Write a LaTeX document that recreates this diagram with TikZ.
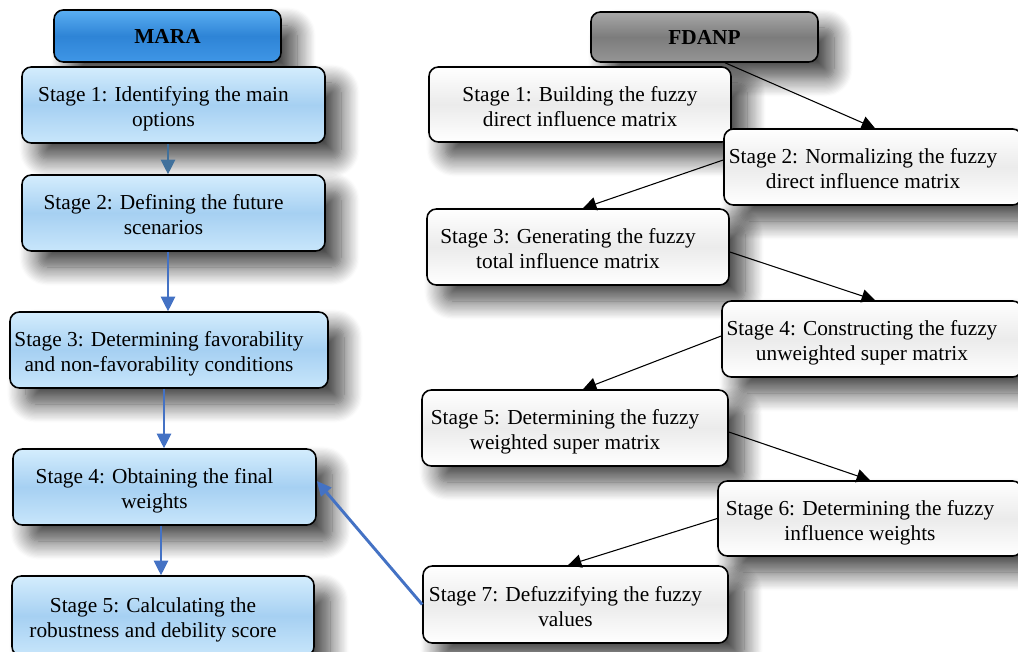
\documentclass[tikz,border=0pt]{standalone}
\usepackage{fontspec}
\setmainfont{Liberation Serif}
\usetikzlibrary{arrows.meta,calc,shadows.blur}
\definecolor{maraTop}{HTML}{5AAEF2}
\definecolor{maraMid}{HTML}{2E84D6}
\definecolor{maraBot}{HTML}{3F96E6}
\definecolor{lbTop}{HTML}{D4EDFD}
\definecolor{lbMid}{HTML}{A6D0F2}
\definecolor{lbBot}{HTML}{C8E6FB}
\definecolor{fdTop}{HTML}{A8A8A8}
\definecolor{fdMid}{HTML}{7C7C7C}
\definecolor{fdBot}{HTML}{959595}
\definecolor{rbMid}{HTML}{EBEBEB}
\definecolor{arrBlue}{HTML}{4472C4}
\definecolor{arrSteel}{HTML}{41719C}
\newcommand\boxtextc[1]{\raisebox{-7.5pt}[0pt][0pt]{\begin{tabular}{@{}c@{}}#1\end{tabular}}}
\newcommand\boxtext[1]{\boxtextc{#1}\kern15pt}
\begin{document}
\begin{tikzpicture}[x=0.75pt,y=-0.75pt,
  base/.style={draw=black, line width=1.2pt, rounded corners=7pt, inner sep=0pt,
    font=\fontsize{16}{18.5}\selectfont,
    blur shadow={shadow xshift=12pt, shadow yshift=-12pt, shadow blur radius=14pt, shadow blur steps=16, shadow opacity=75}},
  sz/.style 2 args={minimum width=#1*0.75pt, minimum height=#2*0.75pt},
  marahead/.style={base, top color=maraTop, bottom color=maraBot, middle color=maraMid},
  fdhead/.style={base, top color=fdTop, bottom color=fdBot, middle color=fdMid},
  lbox/.style={base, top color=lbTop, bottom color=lbBot, middle color=lbMid},
  rbox/.style={base, top color=white, bottom color=white, middle color=rbMid},
  larr/.style={draw=arrBlue, line width=0.9pt, -{Triangle[length=11pt,width=11pt]}},
  rarr/.style={draw=black, line width=0.8pt, -{Triangle[length=10pt,width=10pt]}},
  barr/.style={draw=arrBlue, line width=2.2pt, -{Triangle[length=11pt,width=10pt]}}
]
\useasboundingbox (0,0) rectangle (1018,652);
% left column
\node[marahead, sz={227}{52}] (mara) at (167.5,36) {\textbf{MARA}};
\node[lbox, sz={303}{76}] (l1) at (173.5,105) {\boxtext{Stage 1: Identifying the main\\options}};
\node[lbox, sz={303}{76}] (l2) at (173.5,213) {\boxtext{Stage 2: Defining the future\\scenarios}};
\node[lbox, sz={318}{76}] (l3) at (169,350) {\boxtext{Stage 3: Determining favorability\\and non-favorability conditions}};
\node[lbox, sz={303}{76}] (l4) at (164.5,487) {\boxtext{Stage 4: Obtaining the final\\weights}};
\node[lbox, sz={302}{80}] (l5) at (163,616) {\boxtext{Stage 5: Calculating the\\robustness and debility score}};
% right column
\node[fdhead, sz={227}{50}] (fd) at (704.5,37) {\textbf{FDANP}};
\node[rbox, sz={302}{75}] (r1) at (580,104.5) {\boxtextc{Stage 1: Building the fuzzy\\direct influence matrix}};
\node[rbox, sz={298}{76}] (r2) at (873,167) {\boxtext{Stage 2: Normalizing the fuzzy\\direct influence matrix}};
\node[rbox, sz={302}{76}] (r3) at (578,247) {\boxtext{Stage 3: Generating the fuzzy\\total influence matrix}};
\node[rbox, sz={300}{76}] (r4) at (872,339) {\boxtext{Stage 4: Constructing the fuzzy\\unweighted super matrix}};
\node[rbox, sz={306}{76}] (r5) at (575,428) {\boxtext{Stage 5: Determining the fuzzy\\weighted super matrix}};
\node[rbox, sz={304}{75}] (r6) at (870,518.5) {\boxtext{Stage 6: Determining the fuzzy\\influence weights}};
\node[rbox, sz={305}{77}] (r7) at (575.5,604.5) {\boxtext{Stage 7: Defuzzifying the fuzzy\\values}};
% left arrows
\draw[larr, draw=arrSteel] ($(l1.south)+(-5.5,0)$) coordinate (p1) -- (p1 |- l2.north);
\draw[larr] ($(l2.south)+(-5.5,0)$) coordinate (p2) -- (p2 |- l3.north);
\draw[larr] ($(l3.south)+(-5,0)$) coordinate (p3) -- (p3 |- l4.north);
\draw[larr] ($(l4.south)+(-3.5,0)$) coordinate (p4) -- (p4 |- l5.north);
% right arrows
\draw[rarr] ($(fd.south west)!0.59!(fd.south east)$) -- ($(r2.north)+(2,0)$);
\draw[rarr] ($(r2.west)+(0,-7)$) -- ($(r3.north)+(5,0)$);
\draw[rarr] ($(r3.east)+(0,5)$) -- ($(r4.north)+(3,0)$);
\draw[rarr] ($(r4.west)+(0,-3)$) -- ($(r5.north)+(8,0)$);
\draw[rarr] ($(r5.east)+(0,4)$) -- (r6.north);
\draw[rarr] (r6.west) -- ($(r7.north)+(-7.5,0)$);
% link
\draw[barr] (r7.west) -- ($(l4.east)+(0,-6)$);
\end{tikzpicture}
\end{document}
